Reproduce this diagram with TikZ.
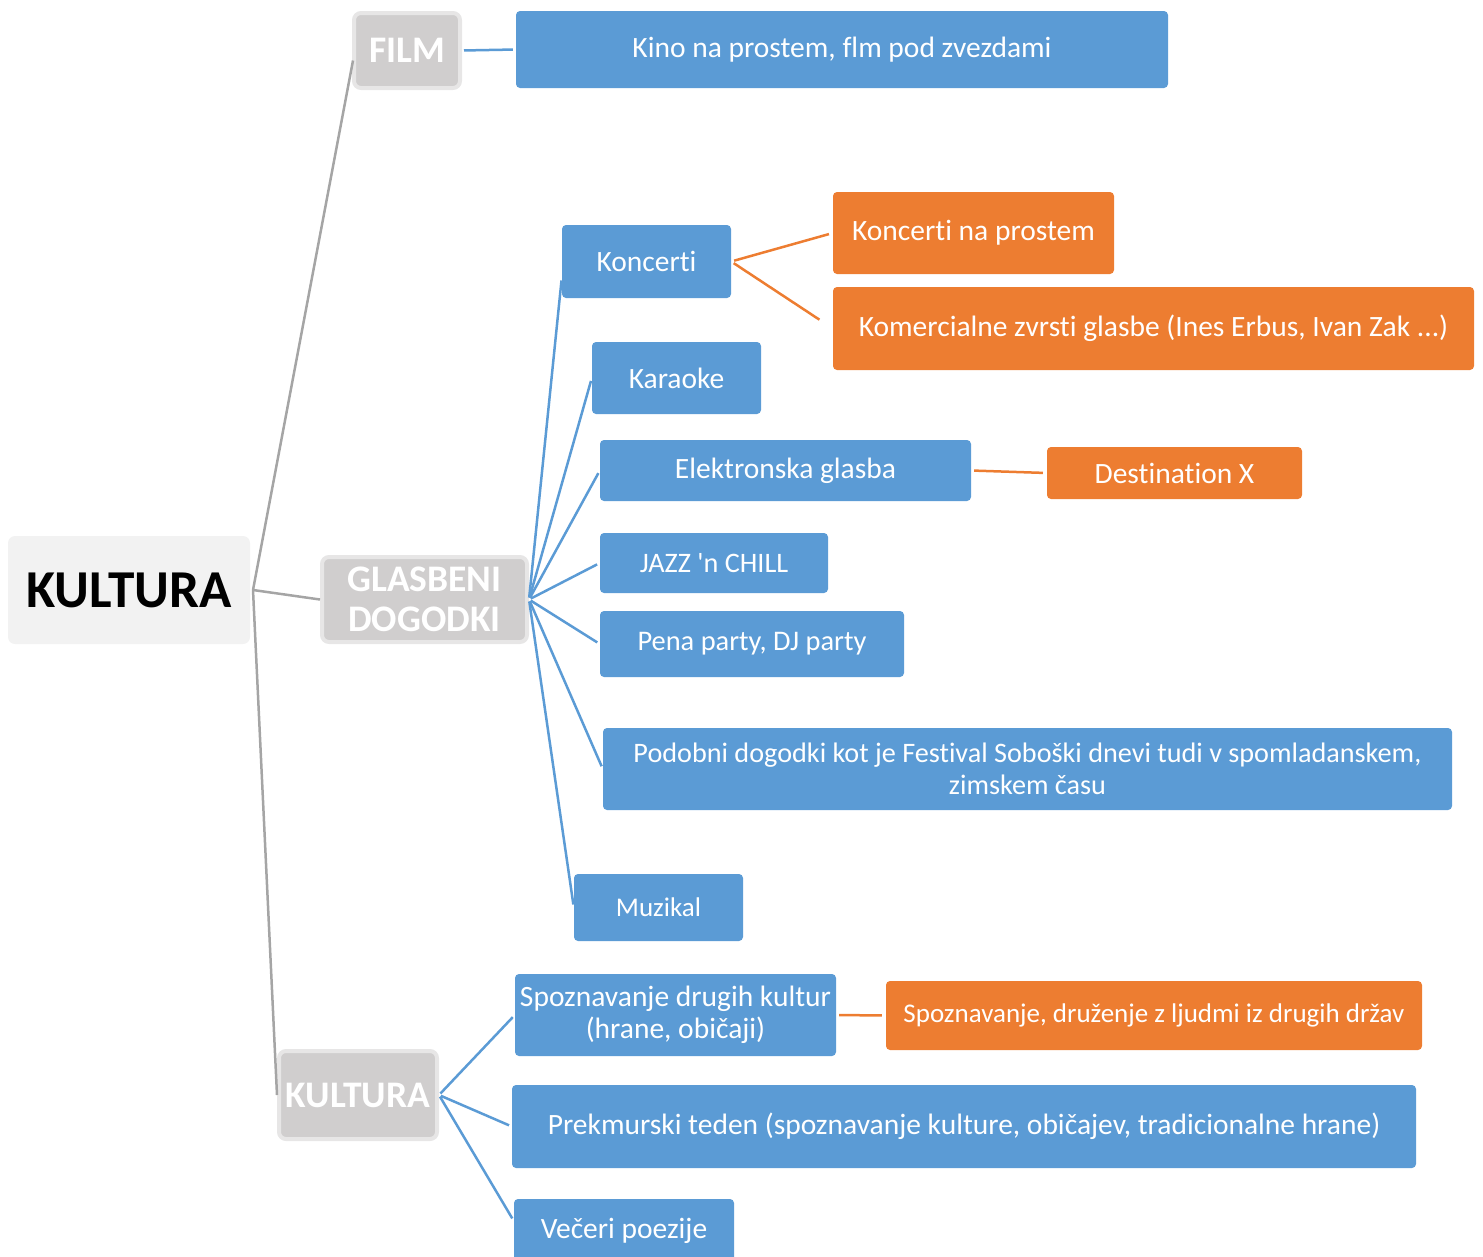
\documentclass[tikz,border=0pt]{standalone}
\usepackage{fontspec}
\newfontfamily\carl{Carlito}[Ligatures=NoCommon]
\definecolor{cblue}{HTML}{5B9BD5}
\definecolor{corange}{HTML}{ED7D31}
\definecolor{cgray}{HTML}{D0CECE}
\definecolor{clight}{HTML}{E7E6E6}
\definecolor{croot}{HTML}{F2F2F2}
\definecolor{cline}{HTML}{A5A5A5}
\tikzset{
  box/.style={rectangle, rounded corners=4pt, inner sep=0pt, align=center, text=white,
    font=\carl\fontsize{29.5}{32}\selectfont},
  bluebox/.style={box, fill=cblue},
  orangebox/.style={box, fill=corange},
  lvlbox/.style={box, fill=cgray, draw=clight, line width=4pt, rounded corners=7pt,
    font=\carl\fontsize{37.5}{40}\selectfont\bfseries},
  rootbox/.style={box, fill=croot, text=black, rounded corners=7pt,
    font=\carl\fontsize{53.3}{56}\selectfont\bfseries},
  grayline/.style={draw=cline, line width=2.5pt},
  blueline/.style={draw=cblue, line width=2.5pt, shorten >=3pt, shorten <=2pt},
  orangeline/.style={draw=corange, line width=2.5pt, shorten >=4pt, shorten <=3pt},
}
\begin{document}
\begin{tikzpicture}[x=1pt,y=-1pt]
\useasboundingbox (0,0) rectangle (1483,1256);
% root
\node[rootbox, minimum width=242, minimum height=108] (root) at (129,590) {KULTURA};
% level 1
\node[lvlbox, minimum width=106, minimum height=75] (film) at (407,50.5) {FILM};
\node[lvlbox, minimum width=205, minimum height=85] (glas) at (424.5,599.5) {GLASBENI\\DOGODKI};
\node[lvlbox, minimum width=158, minimum height=88] (kult) at (358,1095) {KULTURA};
% blue
\node[bluebox, minimum width=652, minimum height=77] (kino) at (842,49.5) {Kino na prostem, flm pod zvezdami};
\node[bluebox, minimum width=169, minimum height=73] (konc) at (646.5,261.5) {Koncerti};
\node[bluebox, minimum width=169, minimum height=72] (kara) at (676.5,378) {Karaoke};
\node[bluebox, minimum width=371, minimum height=61] (elek) at (785.5,470.5) {Elektronska glasba};
\node[bluebox, minimum width=228, minimum height=60, font=\carl\fontsize{28.2}{31}\selectfont] (jazz) at (714,563) {JAZZ 'n CHILL};
\node[bluebox, minimum width=304, minimum height=66, font=\carl\fontsize{28.4}{31}\selectfont] (pena) at (752,644) {Pena party, DJ party};
\node[bluebox, minimum width=849, minimum height=82, font=\carl\fontsize{28.2}{32}\selectfont] (podo) at (1027.5,769) {Podobni dogodki kot je Festival Soboški dnevi tudi v spomladanskem,\\zimskem času};
\node[bluebox, minimum width=169, minimum height=67, font=\carl\fontsize{27}{30}\selectfont] (muzi) at (658.5,907.5) {Muzikal};
\node[bluebox, minimum width=321, minimum height=82] (spoz) at (675.5,1015) {Spoznavanje drugih kultur\\(hrane, običaji)};
\node[bluebox, minimum width=904, minimum height=83] (prek) at (964,1126.5) {Prekmurski teden (spoznavanje kulture, običajev, tradicionalne hrane)};
\node[bluebox, minimum width=220, minimum height=64] (vece) at (624,1231) {Večeri poezije};
% orange
\node[orangebox, minimum width=281, minimum height=82] (kpro) at (973.5,233) {Koncerti na prostem};
\node[orangebox, minimum width=641, minimum height=83] (kome) at (1153.5,328.5) {Komercialne zvrsti glasbe (Ines Erbus, Ivan Zak ...)};
\node[orangebox, minimum width=255, minimum height=52] (dest) at (1174.5,473) {Destination X};
\node[orangebox, minimum width=536, minimum height=69, font=\carl\fontsize{27}{30}\selectfont] (druz) at (1154,1015.5) {Spoznavanje, druženje z ljudmi iz drugih držav};
% gray connectors
\coordinate (rj) at (253,590);
\draw[grayline] (rj) -- ([xshift=1pt,yshift=-10pt]film.west);
\draw[grayline] (rj) -- (glas.west);
\draw[grayline] (rj) -- (kult.west);
% blue connectors
\draw[blueline] (film.east) -- (kino.west);
\draw[blueline] (glas.east) -- ([yshift=-16pt]konc.west);
\draw[blueline] (glas.east) -- (kara.west);
\draw[blueline] (glas.east) -- (elek.west);
\draw[blueline] (glas.east) -- (jazz.west);
\draw[blueline] (glas.east) -- (pena.west);
\draw[blueline] (glas.east) -- (podo.west);
\draw[blueline] (glas.east) -- (muzi.west);
\draw[blueline] (kult.east) -- (spoz.west);
\draw[blueline] (kult.east) -- (prek.west);
\draw[blueline] (kult.east) -- ([yshift=10pt]vece.west);
% orange connectors
\draw[orangeline] (konc.east) -- (kpro.west);
\draw[orangeline, shorten >=16pt] (konc.east) -- (kome.west);
\draw[orangeline] (elek.east) -- (dest.west);
\draw[orangeline] (spoz.east) -- (druz.west);
\end{tikzpicture}
\end{document}
